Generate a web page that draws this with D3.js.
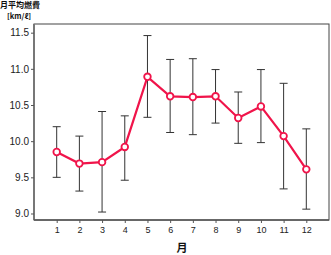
<!DOCTYPE html>
<html><head><meta charset="utf-8">
<script src="https://cdn.jsdelivr.net/npm/d3@7"></script>
<style>body{margin:0;background:#fff}svg{display:block}</style>
</head><body>
<script>
const months = [1,2,3,4,5,6,7,8,9,10,11,12];
const means  = [9.85,9.69,9.71,9.92,10.89,10.62,10.61,10.62,10.32,10.48,10.07,9.61];
const upper  = [10.20,10.07,10.41,10.35,11.46,11.13,11.14,10.99,10.68,10.99,10.80,10.17];
const lower  = [9.50,9.31,9.02,9.46,10.33,10.12,10.09,10.25,9.97,9.98,9.34,9.06];
const yTicks = [9.0,9.5,10.0,10.5,11.0,11.5];
const yTitle = ["月平均燃費","[km/ℓ]"];
const xTitle = "月";

const W=331,H=255;
const L=34,R=329,T=24,B=220;
const svg=d3.select("body").append("svg").attr("width",W).attr("height",H);
const x=d3.scaleLinear().domain([0,13]).range([L,R]);
const y=d3.scaleLinear().domain([8.91,11.62]).range([B,T]);
const font="Liberation Sans, Arial, sans-serif";

svg.append("rect").attr("x",L).attr("y",T).attr("width",R-L).attr("height",B-T)
  .attr("fill","none").attr("stroke","#444").attr("stroke-width",1);
svg.append("line").attr("x1",L).attr("x2",L).attr("y1",T).attr("y2",B)
  .attr("stroke","#777").attr("stroke-width",2);
svg.append("line").attr("x1",L).attr("x2",R).attr("y1",B).attr("y2",B)
  .attr("stroke","#555").attr("stroke-width",1.5);

const ya=svg.append("g").attr("transform",`translate(${L},0)`)
  .call(d3.axisLeft(y).tickValues(yTicks).tickFormat(d3.format(".1f")).tickSize(3).tickPadding(2));
ya.select(".domain").remove();
ya.selectAll("line").attr("stroke","#555");
ya.selectAll("text").attr("font-family",font).attr("font-size",10).attr("fill","#222");

const xa=svg.append("g").attr("transform",`translate(0,${B})`)
  .call(d3.axisBottom(x).tickValues(months).tickFormat(d3.format("d")).tickSize(3).tickPadding(4));
xa.select(".domain").remove();
xa.selectAll("line").attr("stroke","#555");
xa.selectAll("text").attr("font-family",font).attr("font-size",9).attr("fill","#222");

const eb=svg.append("g");
months.forEach((m,i)=>{
  const cx=x(m);
  eb.append("line").attr("x1",cx).attr("x2",cx).attr("y1",y(upper[i])).attr("y2",y(lower[i])).attr("stroke","#333").attr("stroke-width",1);
  eb.append("line").attr("x1",cx-4).attr("x2",cx+4).attr("y1",y(upper[i])).attr("y2",y(upper[i])).attr("stroke","#333").attr("stroke-width",1);
  eb.append("line").attr("x1",cx-4).attr("x2",cx+4).attr("y1",y(lower[i])).attr("y2",y(lower[i])).attr("stroke","#333").attr("stroke-width",1);
});

svg.append("path").datum(months.map((m,i)=>[m,means[i]]))
  .attr("d",d3.line().x(d=>x(d[0])).y(d=>y(d[1])))
  .attr("fill","none").attr("stroke","#f0144a").attr("stroke-width",2.2);
svg.append("g").selectAll("circle").data(months.map((m,i)=>[m,means[i]])).join("circle")
  .attr("cx",d=>x(d[0])).attr("cy",d=>y(d[1])).attr("r",3.3)
  .attr("fill","#fff").attr("stroke","#f0144a").attr("stroke-width",1.8);

svg.append("text").attr("x",0).attr("y",8).attr("font-family","Noto Sans CJK JP, sans-serif")
  .attr("font-size",8).attr("font-weight","bold").attr("fill","#111").text(yTitle[0]);
svg.append("text").attr("x",7).attr("y",19).attr("font-family","Noto Sans CJK JP, sans-serif")
  .attr("font-size",7.5).attr("font-weight","bold").attr("fill","#111").text(yTitle[1]);
svg.append("text").attr("x",182).attr("y",252).attr("text-anchor","middle").attr("font-family","Noto Sans CJK JP, sans-serif")
  .attr("font-size",11).attr("font-weight","bold").attr("fill","#111").text(xTitle);
</script>
</body></html>
